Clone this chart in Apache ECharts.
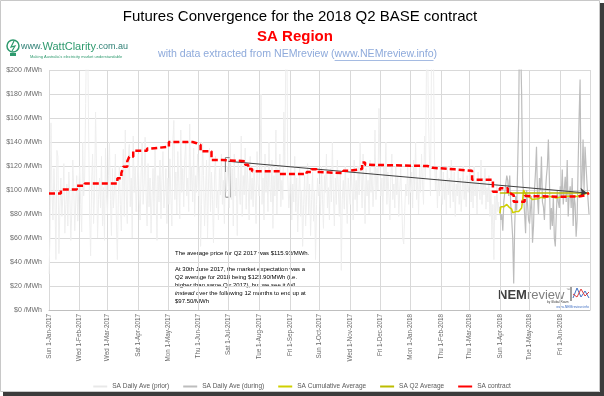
<!DOCTYPE html>
<html><head><meta charset="utf-8">
<script src="https://cdn.jsdelivr.net/npm/echarts@6/dist/echarts.min.js"></script>
<style>html,body{margin:0;padding:0;background:#fff}#c{width:604px;height:396px}</style>
</head><body><div id="c"></div>
<script>
// ---- DATA ----
const startDate = '2017-01-01';
const endDate = '2018-07-01';
const priorStart = '2017-01-01';
const priorValues = [
// Jan 2017
30,62,156,98,75,118,92,42,133,128,47,85,110,78,95,122,64,88,105,70,115,96,58,82,125,101,66,90,112,74,98,
// Feb
120,88,65,140,95,110,172,240,230,150,80,45,105,130,72,98,165,118,60,92,110,85,128,70,102,58,135,96,
// Mar
80,112,140,92,62,118,85,100,130,75,42,96,120,88,66,108,134,78,150,95,72,125,138,86,110,60,145,98,120,82,104,
// Apr
130,92,75,115,140,88,105,144,98,70,122,86,110,64,95,118,80,135,100,58,112,90,125,76,108,132,85,98,118,72,
// May
110,88,126,95,70,140,158,92,115,80,132,105,76,150,98,118,86,125,140,95,110,82,155,100,120,90,135,78,112,98,130,
// Jun
95,120,53,88,140,112,70,98,125,60,105,135,82,115,92,56,110,128,85,100,75,118,96,130,88,108,72,115,98,120,
// Jul
105,85,140,92,118,70,130,95,110,62,125,100,88,145,78,112,96,135,84,120,102,75,128,92,110,86,118,98,72,132,105,
// Aug
95,120,180,88,110,75,130,98,115,82,140,102,90,125,68,112,95,150,80,118,100,130,86,108,92,165,120,215,230,110,85,
// Sep
98,120,75,105,90,128,82,110,65,95,118,78,100,53,88,112,70,96,122,80,105,62,92,115,74,100,42,88,110,95,
// Oct
105,80,120,92,68,112,98,130,85,102,75,118,90,140,96,70,110,88,125,100,78,115,33,92,108,84,120,95,72,110,98,
// Nov
88,115,100,75,125,92,108,82,120,96,140,110,85,130,100,72,118,95,108,80,125,98,115,86,104,150,92,118,100,168,
// Dec
125,95,110,80,120,100,140,88,115,98,75,110,130,92,105,85,120,96,112,78,100,118,90,60,55,82,105,95,120,88,110,
// Jan 2018
98,115,85,125,100,140,92,110,80,120,98,130,105,88,145,110,210,230,160,125,95,205,240,215,130,100,118,85,110,95,120,
// Feb
100,88,115,92,108,80,120,96,110,85,125,100,90,115,78,105,95,118,88,110,82,100,120,92,108,86,112,98,
// Mar
105,118,90,112,85,120,95,108,80,115,100,92,125,88,110,96,118,84,102,90,112,78,100,60,88,42,95,75,105,82,90
];
const duringStart = '2018-04-01';
const duringValues = [
// Apr 2018
86,75,80,66,90,98,105,112,108,95,112,88,75,60,22,70,95,83,120,160,250,220,180,110,94,80,64,100,88,75,
// May
72,85,95,56,70,100,115,136,94,80,110,100,128,90,86,75,98,111,120,142,110,67,85,70,95,60,53,80,100,90,85,
// Jun
103,95,117,88,100,111,90,125,78,95,103,85,110,70,95,88,61,75,120,160,192,94,110,142,100,136,120,105,92,80
];
const cumulativeValues = [
80.6,86,85,87.5,86,87,85,88,87,86,87.5,86,84,81,80,81,82,82.5,83,82,82.5,83,85,92,100,98,97,95,94,94.5,
94,93,92.5,92,92.2,93,92.5,93.5,93,92.8,93,93.5,94,93.8,93.5,93.2,93.5,94,94.5,95,94.8,94.5,94,93.8,94,93.5,93,93.2,93.6,93.8,94,
94.2,94,94.3,94.2,94.5,94.6,94.8,95,94.8,95,95,94.8,95,94.7,94.8,94.9,94.6,94.5,94.8,95.2,95.8,95.6,96,96.2,96.4,96.8,97,97.2,97.4,97.5
];
const q2AverageValue = 97.5;
const q2Dates = ['2018-04-01', '2018-06-30'];
const contractDates = ['2017-01-01','2017-01-13','2017-01-29','2017-02-06','2017-03-11','2017-03-15','2017-03-17','2017-03-21','2017-03-23','2017-03-27','2017-04-10','2017-04-13','2017-05-02','2017-05-26','2017-05-30','2017-06-03','2017-06-14','2017-06-25','2017-07-18','2017-07-21','2017-07-25','2017-08-22','2017-09-18','2017-09-23','2017-09-28','2017-10-01','2017-10-25','2017-10-30','2017-11-13','2017-11-16','2017-11-19','2018-01-18','2018-01-23','2018-02-15','2018-03-04','2018-03-25','2018-04-01','2018-04-09','2018-04-12','2018-04-15','2018-04-26','2018-04-29','2018-06-01','2018-06-19','2018-06-24','2018-06-28','2018-06-30'];
const contractValues = [97,100.5,103.6,105.5,109.7,114,119.4,124,127.8,132.8,134.5,136,140,139,137.5,132.2,125,124,121,117.5,115.6,113.3,115,117.2,115,114,116,117.5,123,121,120,118.5,117.2,116,108.5,98.6,101.4,97,95.8,90.3,95,94.4,94.6,95.2,96.5,97.5,97.5];
const arrowFrom = ['2017-07-01', 123.9];
const arrowTo = ['2018-06-28', 97.5];
const boxFrom = ['2017-06-28', 94];
const boxTo = ['2017-07-03', 127];
const yTicks = [0,20,40,60,80,100,120,140,160,180,200];
const seriesNames = ['SA Daily Ave (prior)','SA Daily Ave (during)','SA Cumulative Average','SA Q2 Average','SA contract'];

// ---- helpers ----
function fmt(d){return d.toISOString().slice(0,10);}
const dates = [];
for (let t = Date.parse(startDate+'T00:00:00Z'); t <= Date.parse(endDate+'T00:00:00Z'); t += 86400000) dates.push(fmt(new Date(t)));
function seq(start, vals){const i0 = dates.indexOf(start); return vals.map((v,i)=>[dates[i0+i], v]);}
const DOW=['Sun','Mon','Tue','Wed','Thu','Fri','Sat'];
const MON=['Jan','Feb','Mar','Apr','May','Jun','Jul','Aug','Sep','Oct','Nov','Dec'];
function lab(v){const d=new Date(v+'T00:00:00Z');return DOW[d.getUTCDay()]+' '+d.getUTCDate()+'-'+MON[d.getUTCMonth()]+'-'+d.getUTCFullYear();}
const isMonthStart = (i, v) => v.slice(8) === '01';
const FONT = 'Liberation Sans';
const mctx = document.createElement('canvas').getContext('2d');
function tw(font, s){mctx.font = font; return mctx.measureText(s).width;}

const chart = echarts.init(document.getElementById('c'), null, {renderer:'canvas'});
const q2Idx0 = dates.indexOf(q2Dates[0]), q2Idx1 = dates.indexOf(q2Dates[1]);
const q2Data = dates.slice(q2Idx0, q2Idx1+1).map(d => [d, q2AverageValue]);

const subFont = '10.6px "Liberation Sans"';
const subA = 'with data extracted from NEMreview (', subU = 'www.NEMreview.info', subB = ')';
const subX = 158;
const uX0 = subX + tw(subFont, subA), uX1 = uX0 + tw(subFont, subU);

chart.setOption({
  animation:false,
  backgroundColor:'#ffffff',
  textStyle:{fontFamily:FONT},
  grid:{left:49, right:14, top:70, bottom:86},
  legend:{
    data:seriesNames, top:378, left:'center', icon:'rect', itemWidth:14, itemHeight:2, itemGap:14,
    textStyle:{fontSize:6.5, color:'#595959', fontFamily:FONT}
  },
  xAxis:{
    type:'category', data:dates, boundaryGap:false,
    axisLine:{lineStyle:{color:'#bfbfbf'}}, axisTick:{show:false},
    axisLabel:{rotate:90, fontSize:6.3, color:'#6a6a6a', margin:4, fontFamily:FONT,
      interval:(i,v)=> isMonthStart(i,v) && i < dates.length-1, formatter:lab},
    splitLine:{show:true, interval:isMonthStart, lineStyle:{color:'#d9d9d9', width:1}}
  },
  yAxis:{
    type:'value', min:yTicks[0], max:yTicks[yTicks.length-1], interval:20,
    axisLine:{show:false}, axisTick:{show:false},
    axisLabel:{fontSize:7, color:'#6a6a6a', margin:7, fontFamily:FONT, formatter:v=>'$'+v+' /MWh'},
    splitLine:{lineStyle:{color:'#d9d9d9', width:1}}
  },
  series:[
    {name:seriesNames[0], type:'line', data:seq(priorStart, priorValues), showSymbol:false, symbol:'none',
      lineStyle:{color:'#eeeeee', width:1}, itemStyle:{color:'#e8e8e8'}, z:1},
    {name:seriesNames[1], type:'line', data:seq(duringStart, duringValues), showSymbol:false, symbol:'none',
      lineStyle:{color:'#bdbdbd', width:1.2}, itemStyle:{color:'#bdbdbd'}, z:2},
    {name:seriesNames[2], type:'line', data:seq(duringStart, cumulativeValues), showSymbol:false, symbol:'none',
      lineStyle:{color:'#d0d000', width:1.5}, itemStyle:{color:'#d0d000'}, z:4},
    {name:seriesNames[3], type:'line', data:q2Data, showSymbol:false, symbol:'none',
      lineStyle:{color:'#bcbc00', width:1.5}, itemStyle:{color:'#bcbc00'}, z:4},
    {name:seriesNames[4], type:'line', step:'end', data:contractDates.map((d,i)=>[d, contractValues[i]]),
      showSymbol:false, symbol:'none',
      lineStyle:{color:'#ff0000', width:2.5, type:[6,3]}, itemStyle:{color:'#ff0000'}, z:5,
      markLine:{silent:true, symbol:['none','arrow'], symbolSize:7, label:{show:false},
        lineStyle:{color:'#404040', width:1, type:'solid'},
        data:[[{coord:arrowFrom},{coord:arrowTo}]]},
      markArea:{silent:true, itemStyle:{color:'rgba(0,0,0,0)', borderColor:'#7f7f7f', borderWidth:1},
        data:[[{coord:boxFrom},{coord:boxTo}]]}
    }
  ],
  graphic:[
    // frame
    {type:'rect', z:0, shape:{x:0.5,y:0.5,width:599,height:391}, style:{fill:'none', stroke:'#c8c8c8', lineWidth:1}},
    {type:'rect', z:0, shape:{x:600,y:3,width:4,height:393}, style:{fill:'#3c3c3c'}},
    {type:'rect', z:0, shape:{x:3,y:392,width:601,height:4}, style:{fill:'#3c3c3c'}},
    // titles
    {type:'text', x:300, y:17, style:{text:'Futures Convergence for the 2018 Q2 BASE contract', font:'15px "Liberation Sans"', fill:'#000', textAlign:'center', textVerticalAlign:'middle'}},
    {type:'text', x:295, y:37, style:{text:'SA Region', font:'bold 15px "Liberation Sans"', fill:'#ff0000', textAlign:'center', textVerticalAlign:'middle'}},
    {type:'text', x:subX, y:54, style:{text:subA+subU+subB, font:subFont, fill:'#8eaadb', textVerticalAlign:'middle'}},
    {type:'line', shape:{x1:uX0, y1:60.5, x2:uX1, y2:60.5}, style:{stroke:'#8eaadb', lineWidth:0.8}},
    // WattClarity logo
    {type:'circle', shape:{cx:13, cy:46, r:6}, style:{fill:'none', stroke:'#2e9a6e', lineWidth:1.5}},
    {type:'polyline', shape:{points:[[14,41],[11,47],[15,46],[12,51]]}, style:{stroke:'#2e9a6e', lineWidth:1.2, fill:'none'}},
    {type:'rect', shape:{x:10,y:53,width:6,height:3}, style:{fill:'#2e9a6e'}},
    {type:'text', x:21, y:47, style:{text:'{a|www.}{b|WattClarity}{a|.com.au}', textVerticalAlign:'middle',
      rich:{a:{font:'9px "Liberation Sans"', fill:'#2d7f74'}, b:{font:'11px "Liberation Sans"', fill:'#2e9a6e'}}}},
    {type:'text', x:30, y:57, style:{text:"Making Australia's electricity market understandable", font:'4px "Liberation Sans"', fill:'#2e9a6e', textVerticalAlign:'middle'}},
    // annotation box
    {type:'group', z:100, children:[
      {type:'rect', shape:{x:171,y:244,width:146,height:63}, style:{fill:'#ffffff'}},
      {type:'text', x:175, y:249, style:{
        text:'The average price for Q2 2017 was $115.93/MWh.\n\nAt 30th June 2017, the market expectation was a\nQ2 average for 2018 being $123.90/MWh (i.e.\nhigher than same Qtr 2017), but we see it {i|fall}\n{i|instead} over the following 12 months to end up at\n$97.50/MWh',
        font:'6px "Liberation Sans"', fill:'#000', lineHeight:8,
        rich:{i:{font:'italic 6px "Liberation Sans"', fill:'#000', lineHeight:8}}}}
    ]},
    // NEMreview logo
    {type:'group', z:100, children:[
      {type:'text', x:498, y:295, style:{text:'{a|NEM}{b|review}', textVerticalAlign:'middle',
        rich:{a:{font:'bold 13px "Liberation Sans"', fill:'#404040'}, b:{font:'13px "Liberation Sans"', fill:'#7f7f7f'}}}},
      {type:'text', x:566, y:290, style:{text:'™', font:'4px "Liberation Sans"', fill:'#7f7f7f', textVerticalAlign:'middle'}},
      {type:'text', x:547, y:302, style:{text:'by Global Roam', font:'3px "Liberation Sans"', fill:'#404040', textVerticalAlign:'middle'}},
      {type:'line', shape:{x1:571,y1:286,x2:571,y2:301}, style:{stroke:'#404040', lineWidth:1}},
      {type:'polyline', shape:{points:[[573,298],[577,288],[581,297],[585,291],[589,298]]}, style:{stroke:'#4472c4', lineWidth:1, fill:'none'}},
      {type:'polyline', shape:{points:[[573,294],[577,297],[581,289],[585,296],[589,292]]}, style:{stroke:'#e04040', lineWidth:1, fill:'none'}},
      {type:'text', x:589, y:307, style:{text:'www.NEMreview.info', font:'3.5px "Liberation Sans"', fill:'#4472c4', textAlign:'right', textVerticalAlign:'middle'}}
    ]}
  ]
});
</script></body></html>
